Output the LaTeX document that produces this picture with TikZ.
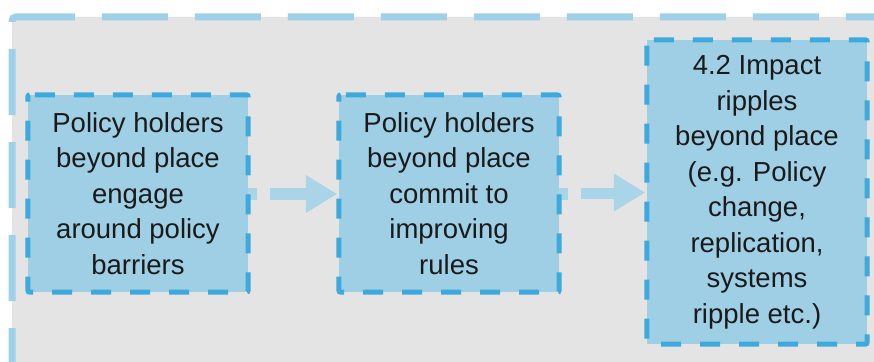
\documentclass[tikz,border=0pt]{standalone}
\usepackage{fontspec}
\setmainfont{Liberation Sans}
\usetikzlibrary{calc}
\definecolor{bggray}{HTML}{E4E4E4}
\definecolor{outerblue}{HTML}{9FD0EA}
\definecolor{boxfill}{HTML}{9ECFE5}
\definecolor{boxline}{HTML}{3DA9DD}
\definecolor{arrowblue}{HTML}{AAD4E8}
\definecolor{txt}{HTML}{1A1A1A}
\tikzset{
  stagebox/.style={fill=boxfill, inner sep=0pt, align=center, text=txt,
    font=\fontsize{27.5}{35.5}\selectfont, minimum width=220pt},
  stageline/.style={draw=boxline, line width=5pt, dash pattern=on 20pt off 19pt, dash phase=-5pt, rounded corners=2pt},
  outerline/.style={draw=outerblue, line width=7pt, dash pattern=on 66pt off 27pt, rounded corners=4pt},
  flow/.style={fill=arrowblue, draw=none}
}
\begin{document}
\begin{tikzpicture}[x=1pt,y=-1pt]
\useasboundingbox (0,0) rectangle (874,361);
\clip (0,0) rectangle (874,361);
\fill[white] (0,0) rectangle (874,361);
% outer container
\fill[bggray, rounded corners=4pt] (12,17) rectangle (1000,500);
\draw[outerline] (12,394) -- (12,17) -- (1000,17);

% boxes
\node[stagebox, minimum height=197pt] (b1) at (138,193.5)
  {Policy holders\\beyond place\\engage\\around policy\\barriers};
\node[stagebox, minimum height=197pt] (b2) at (449,193.5)
  {Policy holders\\beyond place\\commit to\\improving\\rules};
\node[stagebox, minimum height=304pt] (b3) at (757,192)
  {4.2 Impact\\ripples\\beyond place\\(e.g. Policy\\change,\\replication,\\systems\\ripple etc.)};

% arrows
\foreach \a/\b in {b1/b2, b2/b3} {
  \coordinate (s) at ($(\a.east)+(0,0.5)$);
  \coordinate (t) at ($(\b.west)+(0,0.5)$);
  \fill[flow] ($(s)+(0,-6)$) rectangle ($(s)+(9,6)$);
  \fill[flow] ($(s)+(22,-6)$) rectangle ($(t)+(-33,6)$);
  \fill[flow] ($(t)+(-33,-19)$) -- ($(t)+(-2,0)$) -- ($(t)+(-33,19)$) -- cycle;
}

% box borders (drawn last)
\foreach \n in {b1,b2,b3} {
  \draw[stageline] (\n.north west) -- (\n.north east) -- (\n.south east) -- (\n.south west) -- cycle;
}
\end{tikzpicture}
\end{document}
